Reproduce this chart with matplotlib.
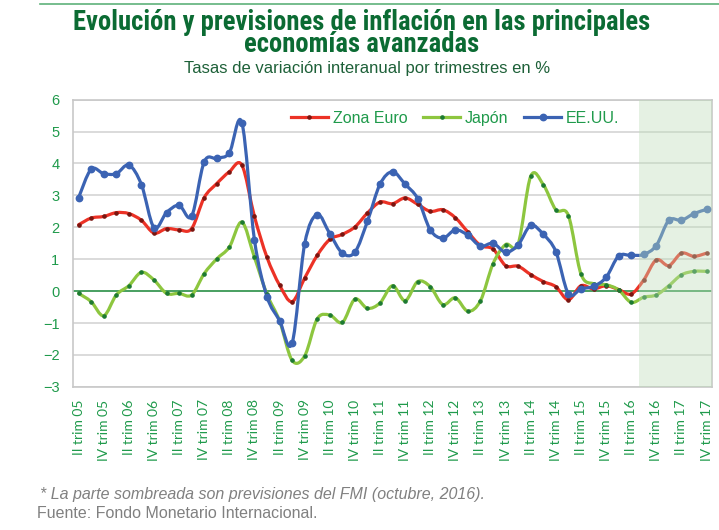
import numpy as np
import matplotlib
matplotlib.use("Agg")
import matplotlib.pyplot as plt
from matplotlib import font_manager
from matplotlib.path import Path
from matplotlib.patches import PathPatch, Rectangle
from matplotlib.lines import Line2D

# trimestres: II trim 05 ... IV trim 17
roman = ["I", "II", "III", "IV"]
quarters = []
for year in range(2005, 2018):
    for q in range(4):
        if year == 2005 and q == 0:
            continue
        quarters.append(roman[q] + " trim " + str(year)[2:])

euro = [2.08, 2.29, 2.34, 2.46, 2.43, 2.22, 1.82, 1.96, 1.92, 1.96,
        2.93, 3.37, 3.74, 3.95, 2.34, 1.06, 0.19, -0.33, 0.41, 1.12,
        1.62, 1.78, 2.01, 2.45, 2.79, 2.74, 2.92, 2.72, 2.50, 2.55,
        2.30, 1.85, 1.43, 1.32, 0.80, 0.78, 0.52, 0.30, 0.14, -0.27,
        0.17, 0.07, 0.17, 0.05, -0.09, 0.35, 0.98, 0.80, 1.19, 1.09, 1.19]

japon = [-0.07, -0.33, -0.77, -0.12, 0.17, 0.59, 0.35, -0.07, -0.07, -0.12,
         0.55, 1.01, 1.38, 2.16, 1.06, -0.10, -0.93, -2.17, -2.03, -0.87,
         -0.75, -0.98, -0.25, -0.54, -0.37, 0.17, -0.30, 0.30, 0.14, -0.42,
         -0.21, -0.63, -0.30, 0.86, 1.46, 1.48, 3.60, 3.34, 2.55, 2.37,
         0.54, 0.23, 0.20, 0.04, -0.35, -0.19, -0.12, 0.17, 0.51, 0.62, 0.62]

eeuu = [2.93, 3.82, 3.68, 3.68, 3.95, 3.34, 1.99, 2.46, 2.69, 2.35,
        4.05, 4.16, 4.33, 5.28, 1.61, -0.17, -0.92, -1.63, 1.48, 2.40,
        1.80, 1.19, 1.22, 2.19, 3.35, 3.74, 3.35, 2.90, 1.92, 1.66,
        1.92, 1.75, 1.41, 1.50, 1.22, 1.45, 2.06, 1.78, 1.24, -0.08,
        0.07, 0.15, 0.43, 1.10, 1.12, 1.15, 1.43, 2.22, 2.22, 2.43, 2.56]

forecast_start = 44.6  # previsiones FMI desde III trim 16

GREEN_TXT = "#1f9a4b"

# fuente estrecha para el titulo, si la hay
installed = {f.name for f in font_manager.fontManager.ttflist}
title_font = {"family": "Liberation Sans", "size": 15.6}
for cand in ["Liberation Sans Narrow", "Roboto Condensed", "Open Sans Condensed",
             "DejaVu Sans Condensed"]:
    if cand in installed:
        title_font = {"family": cand, "size": 19.2}
        break


def smooth(xs, ys):
    # curva suavizada tipo Excel (bezier)
    p = np.column_stack([xs, ys]).astype(float)
    n = len(p)
    verts = [p[0]]
    codes = [Path.MOVETO]
    for i in range(n - 1):
        p0 = p[i - 1] if i > 0 else p[i]
        p1 = p[i]
        p2 = p[i + 1]
        p3 = p[i + 2] if i + 2 < n else p[i + 1]
        verts += [p1 + (p2 - p0) / 6, p2 - (p3 - p1) / 6, p2]
        codes += [Path.CURVE4] * 3
    return Path(verts, codes)


fig = plt.figure(figsize=(7.19, 5.30), dpi=100)
ax = fig.add_axes([0.102, 0.270, 0.888, 0.542])

x = np.arange(len(quarters))
series = [
    ("Zona Euro", euro, "#ec3226", "#7a1510", 2.3),
    ("Japón", japon, "#8dc63f", "#1d7a32", 2.3),
    ("EE.UU.", eeuu, "#3b63b3", "#3b63b3", 4.6),
]
handles = []
for name, vals, col, mcol, ms in series:
    ax.add_patch(PathPatch(smooth(x, vals), fill=False, edgecolor=col, lw=2.3,
                           capstyle="round", joinstyle="round", zorder=3))
    ax.plot(x, vals, ls="none", marker="o", ms=ms, color=mcol, mec=mcol, zorder=4)
    handles.append(Line2D([], [], color=col, lw=2.3, marker="o", ms=ms,
                          mfc=mcol, mec=mcol))

ax.set_xlim(-0.42, 50.42)
ax.set_ylim(-3, 6)
ax.set_yticks(range(-3, 7))
ax.set_xticks(x[::2])
ax.set_xticklabels(quarters[::2], rotation=90, fontfamily="Lato", fontsize=10,
                   color=GREEN_TXT)
for lab in ax.get_yticklabels():
    lab.set_fontfamily("Liberation Sans")
    lab.set_fontsize(10.5)
    lab.set_color(GREEN_TXT)
ax.tick_params(length=0)
ax.tick_params(axis="x", pad=9)
ax.tick_params(axis="y", pad=10)

ax.grid(axis="y", color="#d4d4d4", lw=1.2)
ax.set_axisbelow(True)
ax.axhline(0, color="#3d9b58", lw=1.3, zorder=2)
for s in ax.spines.values():
    s.set_color("#c8c8c8")
    s.set_linewidth(1.2)

# zona sombreada (previsiones)
ax.add_patch(Rectangle((forecast_start, -3), 51 - forecast_start, 9,
                       facecolor=(190 / 255, 222 / 255, 185 / 255), alpha=0.4,
                       edgecolor="none", zorder=5))

leg = ax.legend(handles, [s[0] for s in series], ncol=3, loc="center",
                bbox_to_anchor=(0.598, 0.936), frameon=False,
                prop={"family": "Liberation Sans", "size": 11.5},
                handlelength=2.3, handletextpad=0.3, columnspacing=1.0)
for t in leg.get_texts():
    t.set_color(GREEN_TXT)

fig.add_artist(Line2D([40 / 719, 1], [1 - 4 / 530, 1 - 4 / 530],
                      color="#5fb27a", lw=1.2))

fig.text(0.503, 1 - 33.5 / 530,
         "Evolución y previsiones de inflación en las principales\neconomías avanzadas",
         ha="center", va="center", multialignment="center", linespacing=0.8,
         fontsize=title_font["size"], fontweight="bold",
         family=[title_font["family"], "DejaVu Sans"], color="#0b6b33")
fig.text(0.51, 1 - 68 / 530, "Tasas de variación interanual por trimestres en %",
         ha="center", va="center", fontsize=12, family="Liberation Sans",
         color="#1d6038")

fig.text(40 / 719, 1 - 495 / 530,
         "* La parte sombreada son previsiones del FMI (octubre, 2016).",
         ha="left", va="center", fontsize=11.5, style="italic",
         family="Liberation Sans", color="#808080")
fig.text(37 / 719, 1 - 514 / 530, "Fuente: Fondo Monetario Internacional.",
         ha="left", va="center", fontsize=11.5, family="Liberation Sans",
         color="#808080")

fig.savefig("out.png", dpi=100)
